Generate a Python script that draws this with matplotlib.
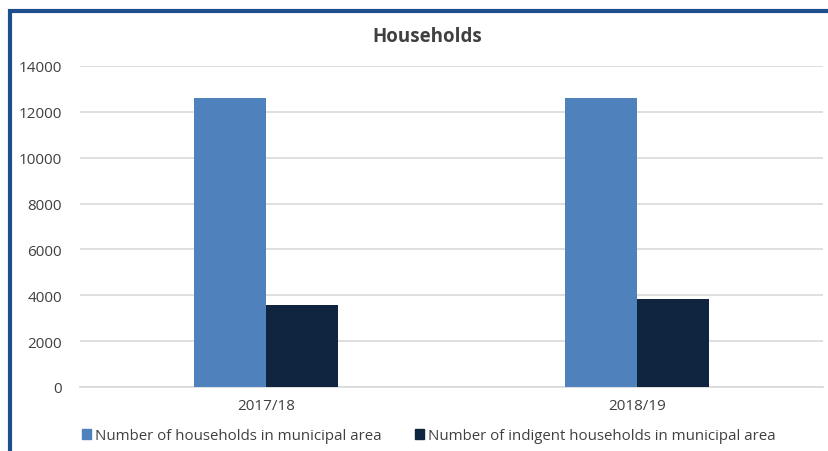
import matplotlib.pyplot as plt
import matplotlib.patches as mpatches
import numpy as np

# Data
years = ['2017/18', '2018/19']
households = [12600, 12600]
indigent = [3570, 3850]
series_names = ['Number of households in municipal area',
                'Number of indigent households in municipal area']
yticks = [0, 2000, 4000, 6000, 8000, 10000, 12000, 14000]

plt.rcParams['font.family'] = ['Open Sans', 'DejaVu Sans']

W, H = 829, 452
fig = plt.figure(figsize=(W / 100, H / 100), dpi=100)
fig.patch.set_facecolor('white')

# Blue frame (left and top edges visible)
frame = mpatches.Rectangle((10 / W, -0.1), 1.2, 1 - 11.5 / H + 0.1, transform=fig.transFigure,
                           fill=False, edgecolor='#1F4E8C', linewidth=3, zorder=0)
fig.patches.append(frame)

ax = fig.add_axes([80 / W, 64 / H, (823 - 80) / W, (388 - 67) / H])
x = np.arange(len(years))
w = 0.194
ax.bar(x - w / 2, households, w, color='#4F81BD', zorder=3)
ax.bar(x + w / 2, indigent, w, color='#0F243E', zorder=3)

ax.set_xlim(-0.5, 1.5)
ax.set_ylim(0, 14000)
ax.set_yticks(yticks)
ax.set_xticks(x)
ax.set_xticklabels(years)
ax.grid(axis='y', color='#D9D9D9', linewidth=1.2, zorder=0)
for s in ['top', 'right', 'left']:
    ax.spines[s].set_visible(False)
ax.spines['bottom'].set_color('#D9D9D9')
ax.spines['bottom'].set_linewidth(1.2)
ax.tick_params(axis='both', length=0, colors='#404040', labelsize=11)
ax.tick_params(axis='y', pad=13)
ax.tick_params(axis='x', pad=8)
ax.set_facecolor('none')

fig.text(427 / W, 1 - 37 / H, 'Households', ha='center', va='center',
         fontsize=13.5, fontweight='bold', color='#404040')

handles = [mpatches.Patch(color='#4F81BD'), mpatches.Patch(color='#0F243E')]
fig.legend(handles, series_names, loc='center', bbox_to_anchor=(429 / W, 1 - 437 / H),
           ncol=2, frameon=False, fontsize=10.8, handlelength=0.6, handleheight=0.6,
           handletextpad=0.3, columnspacing=2.2, labelcolor='#404040')

fig.savefig('out.png', dpi=100)
